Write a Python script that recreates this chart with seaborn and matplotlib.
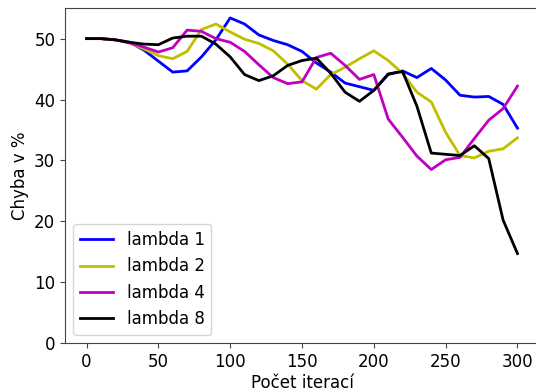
import matplotlib
matplotlib.use("Agg")
import matplotlib.pyplot as plt
import seaborn as sns
import pandas as pd
import numpy as np

iterations = list(range(0, 301, 10))
lambda1 = [50.0, 50.0, 49.8, 49.4, 48.1, 46.3, 44.5, 44.7, 47.0, 49.8, 53.4, 52.4, 50.6, 49.7, 49.0,
           47.9, 46.0, 44.5, 42.7, 42.1, 41.5, 44.1, 44.7, 43.6, 45.1, 43.2, 40.7, 40.4, 40.5, 39.2, 35.3]
lambda2 = [50.0, 50.0, 49.8, 49.3, 48.3, 47.2, 46.7, 47.9, 51.5, 52.4, 51.1, 49.9, 49.2, 48.0, 45.8,
           43.1, 41.7, 44.1, 45.3, 46.7, 48.0, 46.4, 44.3, 41.2, 39.6, 34.6, 30.8, 30.4, 31.5, 31.9, 33.7]
lambda4 = [50.0, 50.0, 49.8, 49.3, 48.6, 47.8, 48.5, 51.4, 51.2, 50.0, 49.4, 47.9, 45.7, 43.6, 42.6,
           42.9, 46.9, 47.6, 45.6, 43.3, 44.1, 36.8, 33.8, 30.7, 28.5, 30.1, 30.5, 33.6, 36.6, 38.5, 42.2]
lambda8 = [50.0, 50.0, 49.8, 49.4, 49.1, 49.0, 50.1, 50.4, 50.4, 49.1, 47.0, 44.1, 43.1, 43.9, 45.6,
           46.4, 46.8, 44.3, 41.2, 39.7, 41.5, 44.2, 44.6, 38.9, 31.2, 31.0, 30.8, 32.4, 30.3, 20.2, 14.7]

labels = ["lambda 1", "lambda 2", "lambda 4", "lambda 8"]
series = [lambda1, lambda2, lambda4, lambda8]
colors = ["#0000ff", "#bfbf00", "#bf00bf", "#000000"]

df = pd.concat([pd.DataFrame({"iter": iterations, "err": s, "series": l}) for s, l in zip(series, labels)])

plt.rcParams['font.family'] = ['DejaVu Sans']
fig, ax = plt.subplots(figsize=(5.36, 3.9), dpi=100)
sns.lineplot(data=df, x="iter", y="err", hue="series", palette=colors, linewidth=2, ax=ax)
ax.set_xlim(-15, 315)
ax.set_ylim(0, 55)
ax.set_xlabel("Počet iterací", fontsize=12, labelpad=2)
ax.set_ylabel("Chyba v %", fontsize=12)
ax.tick_params(labelsize=12, color="#444444")
for sp in ax.spines.values():
    sp.set_color("#444444")
ax.spines["right"].set_visible(False)
ax.legend(loc="lower left", fontsize=12, title=None)
fig.subplots_adjust(left=0.1213, right=1.0056, top=0.979, bottom=0.1205)
fig.savefig("out.png", dpi=100)
